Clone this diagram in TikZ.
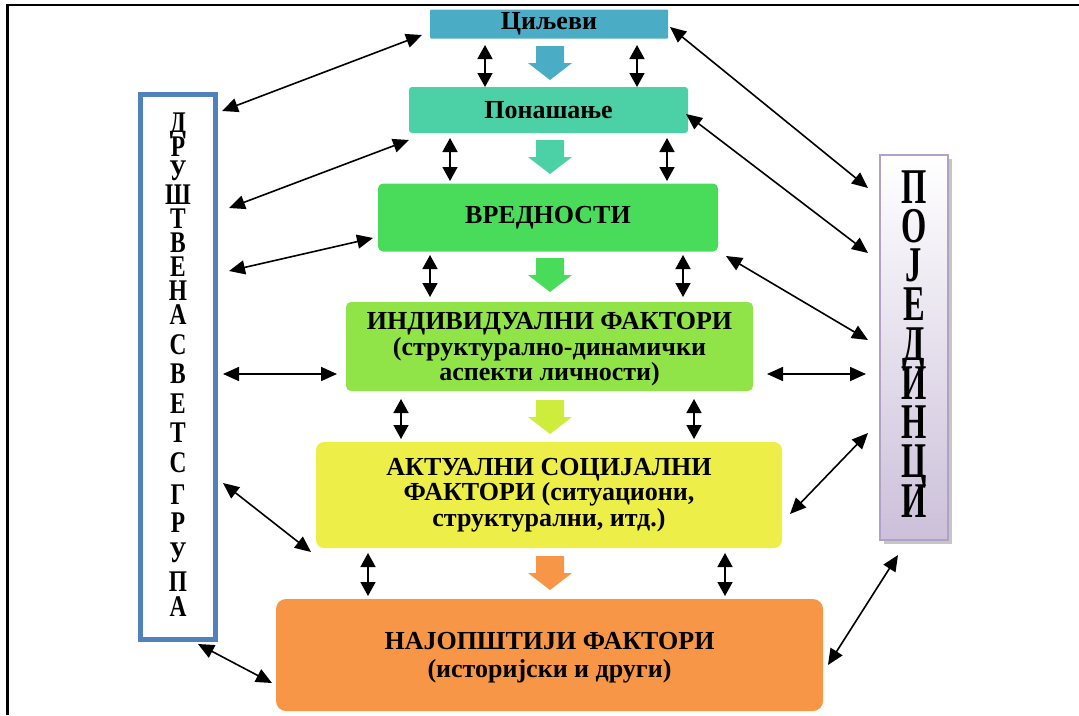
\documentclass[tikz,border=0pt]{standalone}
\usepackage{fontspec}
\setmainfont{Liberation Serif}
\usetikzlibrary{arrows.meta}
\definecolor{cGoal}{RGB}{75,172,198}
\definecolor{cBeh}{RGB}{76,208,166}
\definecolor{cVal}{RGB}{72,220,90}
\definecolor{cInd}{RGB}{145,228,72}
\definecolor{cIndArr}{RGB}{205,236,60}
\definecolor{cAct}{RGB}{238,238,72}
\definecolor{cGen}{RGB}{247,150,70}
\definecolor{cBlue}{RGB}{79,129,189}
\definecolor{cPurp}{RGB}{178,161,199}
\definecolor{cLav}{RGB}{204,192,218}
\begin{document}
\begin{tikzpicture}[x=1pt,y=-1pt,
  box/.style={rounded corners=5pt, inner sep=0pt, align=center,
    font=\fontsize{26}{25.5}\selectfont\bfseries},
  link/.style={line width=1.6pt,
    {Triangle[length=16pt,width=14pt]}-{Triangle[length=16pt,width=14pt]}},
  vlink/.style={line width=1.6pt,
    {Triangle[length=14pt,width=15pt]}-{Triangle[length=14pt,width=15pt]}},
  letL/.style={inner sep=0pt, anchor=base, font=\fontsize{30}{30}\selectfont\bfseries},
  letR/.style={inner sep=0pt, anchor=base, font=\fontsize{50}{50}\selectfont\bfseries},
  fatarrow/.pic={\fill[pic actions] (-14,0) -- (14,0) -- (14,17) -- (22,17)
    -- (0,34) -- (-22,17) -- (-14,17) -- cycle;}]
\useasboundingbox (0,0) rectangle (1079,715);
% frame
\draw[line width=2.2pt] (7.5,715) -- (7.5,5) -- (1079,5);

% central boxes
\node[box, fill=cGoal, minimum width=238pt, minimum height=29pt, rounded corners=1pt] (goal) at (549,24) {Циљеви};
\node[box, fill=cBeh, minimum width=279pt, minimum height=46pt, rounded corners=3pt] (beh) at (548.5,110) {Понашање};
\node[box, fill=cVal, minimum width=340pt, minimum height=68pt] (val) at (548,217.5) {ВРЕДНОСТИ};
\node[box, fill=cInd, minimum width=407pt, minimum height=89pt] (ind) at (549.5,346.5) {};
\node[box] (indtext) at (549.5,349.5)
  {ИНДИВИДУАЛНИ ФАКТОРИ\\(структурално-динамички\\аспекти личности)};
\node[box, fill=cAct, minimum width=466pt, minimum height=106pt, rounded corners=8pt] (act) at (549,495)
  {АКТУАЛНИ СОЦИЈАЛНИ\\ФАКТОРИ (ситуациони,\\структурални, итд.)};
\node[box, fill=cGen, minimum width=547pt, minimum height=112pt, rounded corners=10pt] (gen) at (549.5,655) {};
\node[box, font=\fontsize{26}{28}\selectfont\bfseries] (gentext) at (549.5,658)
  {НАЈОПШТИЈИ ФАКТОРИ\\(историјски и други)};

% fat arrows
\pic[fill=cGoal] at (550,46) {fatarrow};
\pic[fill=cBeh] at (550,140) {fatarrow};
\pic[fill=cVal] at (550,258) {fatarrow};
\pic[fill=cIndArr] at (550,400) {fatarrow};
\pic[fill=cGen] at (550,556) {fatarrow};

% left group box
\draw[cBlue, line width=5pt] (140.5,94.5) rectangle (215.5,639.5);
\foreach \l/\y [count=\i] in {Д/132, Р/156, У/180, Ш/204, Т/228, В/252, Е/276, Н/300, А/324,
  С/354, В/383, Е/413, Т/442, С/472, Г/504, Р/532, У/562, П/591, А/616}
  \node[letL] (g\i) at (178,\y) {\scalebox{0.78}[1]{\l}};

% right individuals box
\fill[gray!45] (884,159) rectangle (952,544);
\draw[cPurp, line width=2pt, top color=white, bottom color=cLav] (880,155) rectangle (948,540);
\foreach \l/\y [count=\i] in {П/203, О/242.25, Ј/281.5, Е/320.75, Д/360, И/399.25, Н/438.5, Ц/477.75, И/517}
  \node[letR] (p\i) at (914,\y) {\scalebox{0.65}[1]{\l}};

% connector end points
\coordinate (l1a) at (222,111); \coordinate (l1b) at (422,35);
\coordinate (l2a) at (229,208); \coordinate (l2b) at (409,140);
\coordinate (l3a) at (229,271); \coordinate (l3b) at (373,238);
\coordinate (l4a) at (223,374); \coordinate (l4b) at (337,374);
\coordinate (l5a) at (223,483); \coordinate (l5b) at (311,552);
\coordinate (l6a) at (198,644); \coordinate (l6b) at (272,683);
\coordinate (r1a) at (670,27); \coordinate (r1b) at (868,188);
\coordinate (r2a) at (686,114); \coordinate (r2b) at (868,253);
\coordinate (r3a) at (726,256); \coordinate (r3b) at (868,340);
\coordinate (r4a) at (767,374); \coordinate (r4b) at (866,374);
\coordinate (r5a) at (790,514); \coordinate (r5b) at (868,433);
\coordinate (r6a) at (828,665); \coordinate (r6b) at (898,555);

\foreach \n in {l1,l2,l3,l4,l5,l6,r1,r2,r3,r4,r5,r6}
  \draw[link] (\n a) -- (\n b);

% vertical double arrows
\foreach \x/\ya/\yb in {485/45/87, 637/45/87, 450/138/181, 667/138/181,
  430/255/297, 683/255/297, 401/399/439, 694/399/439, 368/553/596, 725/553/596}
  {\coordinate (va) at (\x,\ya); \coordinate (vb) at (\x,\yb);
   \draw[vlink] (va) -- (vb);}
\end{tikzpicture}
\end{document}
